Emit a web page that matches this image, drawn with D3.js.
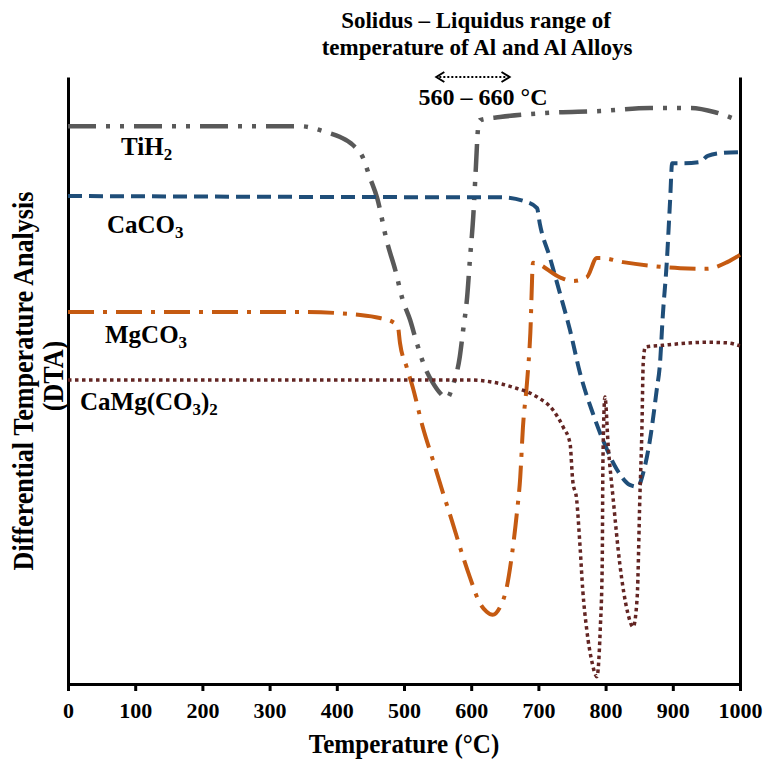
<!DOCTYPE html>
<html lang="en">
<head>
    <meta charset="UTF-8">
    <title>DTA curves</title>
    <script src="https://cdn.jsdelivr.net/npm/d3@7"></script>
    <style>
        body { margin: 0; background: #fff; }
        text {
            font-family: "Liberation Serif", "Times New Roman", serif;
            font-weight: bold;
            fill: #000;
        }
        .axis path, .axis line {
            stroke: #000;
            stroke-width: 3;
        }
        .axis text {
            font-size: 22px;
        }
        .curve { fill: none; }
    </style>
</head>
<body>
<svg id="vis" width="766" height="760"></svg>
<script>
    // temperature (°C) and DTA signal (arbitrary units, 0 = bottom, 100 = top of frame)
    const tihTemp = [0, 345, 385, 405, 424, 439, 449, 460, 475, 487, 498, 509, 519, 531, 543, 554, 564, 573, 583, 588, 594, 598, 603, 607, 610, 613, 643, 717, 792, 866, 926, 963, 1000];
    const tihDta  = [91.9, 91.9, 90.9, 90.1, 88.8, 86.7, 83.5, 80.1, 72.7, 68.2, 63.3, 60.0, 56.2, 52.2, 49.6, 47.9, 47.1, 49.3, 53.9, 58.3, 63.8, 69.8, 76.9, 85.2, 91.3, 92.9, 93.4, 94.1, 94.4, 94.9, 94.9, 94.2, 92.7];

    const caco3Temp = [0, 609, 643, 683, 698, 702, 717, 732, 747, 762, 781, 796, 817, 836, 848, 856, 866, 876, 881, 885, 891, 896, 899, 915, 940, 952, 975, 1000];
    const caco3Dta  = [80.4, 80.2, 80.2, 79.4, 78.4, 75.9, 70.3, 64.4, 58.3, 51.2, 44.6, 40.2, 35.3, 32.8, 32.5, 34.8, 40.2, 48.4, 52.9, 60.5, 69.4, 79.7, 85.8, 85.8, 86.0, 87.0, 87.5, 87.6];

    const mgco3Temp = [0, 345, 435, 464, 484, 491, 494, 504, 513, 528, 543, 558, 571, 586, 598, 613, 623, 632, 643, 653, 661, 668, 673, 677, 683, 688, 692, 732, 751, 772, 787, 792, 826, 866, 911, 951, 981, 1000];
    const mgco3Dta  = [61.3, 61.3, 60.8, 60.3, 59.6, 58.8, 56.2, 52.2, 48.9, 42.3, 36.9, 31.5, 27.0, 21.6, 17.6, 13.3, 11.9, 11.4, 12.7, 16.0, 21.6, 28.2, 34.1, 42.3, 49.6, 57.8, 69.4, 67.0, 66.4, 67.0, 70.2, 70.2, 69.5, 68.9, 68.5, 68.4, 69.5, 70.7];

    const dolTemp = [0, 598, 628, 662, 698, 722, 737, 747, 751, 757, 762, 766, 772, 780, 787, 792, 795, 796, 799, 804, 811, 821, 833, 841, 847, 851, 854, 856, 859, 885, 951, 981, 1000];
    const dolDta  = [50.1, 50.1, 49.8, 48.9, 47.3, 45.1, 42.3, 39.7, 33.6, 30.3, 22.6, 15.5, 8.9, 3.5, 1.2, 8.9, 19.9, 36.4, 47.3, 39.0, 30.8, 19.9, 11.7, 9.4, 14.3, 30.8, 41.8, 52.9, 55.5, 55.8, 56.3, 56.2, 55.7];

    const xTicks = [0, 100, 200, 300, 400, 500, 600, 700, 800, 900, 1000];
    const rangeLow = 560, rangeHigh = 660;

    const series = [
        {name: "TiH", sub: "2", temp: tihTemp, dta: tihDta, color: "#595959", dash: "28,10,4,10,4,10", w: 4.5, lx: 121, ly: 155},
        {name: "CaCO", sub: "3", temp: caco3Temp, dta: caco3Dta, color: "#1f4e79", dash: "14,7", w: 4, lx: 107, ly: 233},
        {name: "MgCO", sub: "3", temp: mgco3Temp, dta: mgco3Dta, color: "#c55a11", dash: "26,9,4,9", w: 4, lx: 105, ly: 343},
        {name: "CaMg(CO", sub: "3", after: ")", sub2: "2", temp: dolTemp, dta: dolDta, color: "#632523", dash: "3.5,3.5", w: 3.5, lx: 80, ly: 410}
    ];

    let svg = d3.select("#vis");
    let margin = {top: 77, right: 26, bottom: 76, left: 68};
    let width = +svg.attr("width");
    let height = +svg.attr("height");

    let x = d3.scaleLinear().domain([0, 1000]).range([margin.left, width - margin.right]);
    let y = d3.scaleLinear().domain([0, 100]).range([height - margin.bottom, margin.top]);

    /* axes */
    svg.append("g")
        .attr("class", "axis")
        .attr("transform", "translate(0," + y(0) + ")")
        .call(d3.axisBottom(x).tickValues(xTicks).tickFormat(d3.format("d")).tickSize(7).tickSizeOuter(0).tickPadding(11))
        .call(g => g.selectAll("text").attr("font-family", null).attr("font-size", null));

    svg.append("g")
        .attr("class", "axis")
        .attr("transform", "translate(" + x(0) + ",0)")
        .call(d3.axisLeft(y).tickValues([]).tickSizeOuter(0));

    svg.append("g")
        .attr("class", "axis")
        .attr("transform", "translate(" + x(1000) + ",0)")
        .call(d3.axisRight(y).tickValues([]).tickSizeOuter(0));

    /* curves */
    let line = d3.line()
        .x(d => x(d[0]))
        .y(d => y(d[1]))
        .curve(d3.curveMonotoneX);

    svg.selectAll(".curve")
        .data(series)
        .join("path")
        .attr("class", "curve")
        .attr("d", s => line(d3.zip(s.temp, s.dta)))
        .attr("stroke", s => s.color)
        .attr("stroke-width", s => s.w)
        .attr("stroke-dasharray", s => s.dash);

    /* curve labels */
    series.forEach(function(s) {
        let t = svg.append("text")
            .attr("x", s.lx)
            .attr("y", s.ly)
            .attr("font-size", 25);
        t.append("tspan").text(s.name);
        t.append("tspan").attr("font-size", 17).attr("dy", 5).text(s.sub);
        if (s.after) {
            t.append("tspan").attr("font-size", 25).attr("dy", -5).text(s.after);
            t.append("tspan").attr("font-size", 17).attr("dy", 5).text(s.sub2);
        }
    });

    /* axis titles (slightly condensed like the original) */
    svg.append("text")
        .attr("transform", "translate(" + (x(0) + x(1000)) / 2 + ",753) scale(0.93,1)")
        .attr("text-anchor", "middle")
        .attr("font-size", 27)
        .text("Temperature (°C)");

    svg.append("text")
        .attr("transform", "translate(33,381) rotate(-90) scale(0.9,1)")
        .attr("text-anchor", "middle")
        .attr("font-size", 29)
        .text("Differential Temperature Analysis");

    svg.append("text")
        .attr("transform", "translate(63,376) rotate(-90) scale(0.9,1)")
        .attr("text-anchor", "middle")
        .attr("font-size", 29)
        .text("(DTA)");

    /* solidus-liquidus annotation */
    svg.append("text")
        .attr("x", 476).attr("y", 28)
        .attr("text-anchor", "middle")
        .attr("font-size", 23)
        .text("Solidus – Liquidus range of");

    svg.append("text")
        .attr("x", 477).attr("y", 55)
        .attr("text-anchor", "middle")
        .attr("font-size", 23)
        .text("temperature of Al and Al Alloys");

    let ax0 = x(rangeLow) - 8, ax1 = x(rangeHigh) - 2, ay = 77;
    svg.append("line")
        .attr("x1", ax0 + 3).attr("x2", ax1 - 3)
        .attr("y1", ay).attr("y2", ay)
        .attr("stroke", "#000").attr("stroke-width", 2)
        .attr("stroke-dasharray", "2,2");
    svg.append("path")
        .attr("d", `M${ax0 + 8},${ay - 5}L${ax0},${ay}L${ax0 + 8},${ay + 5}M${ax1 - 8},${ay - 5}L${ax1},${ay}L${ax1 - 8},${ay + 5}`)
        .attr("fill", "none").attr("stroke", "#000").attr("stroke-width", 2);

    svg.append("text")
        .attr("x", 483).attr("y", 105)
        .attr("text-anchor", "middle")
        .attr("font-size", 24)
        .text(rangeLow + " – " + rangeHigh + " °C");
</script>
</body>
</html>
